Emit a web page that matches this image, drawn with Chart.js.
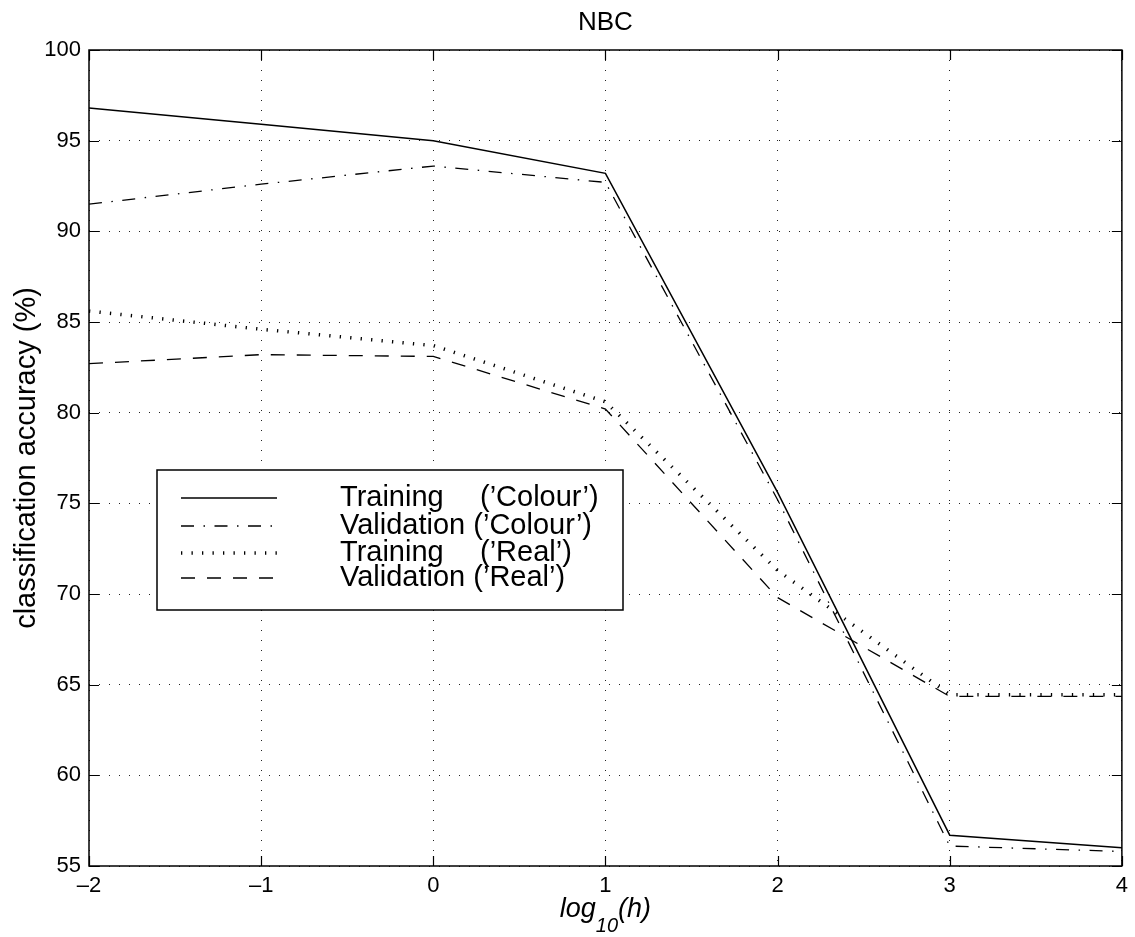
<!DOCTYPE html>
<html>
<head>
<meta charset="utf-8">
<script src="https://cdn.jsdelivr.net/npm/chart.js@4.4.1/dist/chart.umd.min.js"></script>
<style>
  html, body { margin: 0; padding: 0; background: #fff; }
  #wrap { width: 1135px; height: 937px; }
</style>
</head>
<body>
<div id="wrap"><canvas id="chartNbc" width="1135" height="937"></canvas></div>
<script>
// valores
const logH = [-2, -1, 0, 1, 2, 3, 4];
const trainColour = [96.8, 95.9, 95.0, 93.2, 75.6, 56.7, 56.0];
const validColour = [91.5, 92.6, 93.6, 92.7, 75.2, 56.1, 55.8];
const trainReal = [85.6, 84.6, 83.7, 80.6, 71.3, 64.45, 64.45];
const validReal = [82.7, 83.2, 83.1, 80.2, 69.8, 64.35, 64.35];

const xTicks = [-2, -1, 0, 1, 2, 3, 4];
const yTicks = [55, 60, 65, 70, 75, 80, 85, 90, 95, 100];

const legendNames = ["Training", "Validation", "Training", "Validation"];
const legendSets = ["(\u2019Colour\u2019)", "(\u2019Colour\u2019)", "(\u2019Real\u2019)", "(\u2019Real\u2019)"];

const FONT = "'Liberation Sans', Arial, Helvetica, sans-serif";

function toPoints(values) {
  return logH.map((x, i) => ({ x: x, y: values[i] }));
}

const styles = [
  { borderWidth: 1.5, borderDash: [] },
  { borderWidth: 1.3, borderDash: [13, 9.5, 1.5, 9.5] },
  { borderWidth: 3.5, borderDash: [1.3, 9.2] },
  { borderWidth: 1.3, borderDash: [14, 12] }
];

const seriesValues = [trainColour, validColour, trainReal, validReal];

// caixa, ticks para dentro, título, rótulos e legenda
const matlabDecor = {
  id: "matlabDecor",
  afterDraw(chart) {
    const ctx = chart.ctx;
    const a = chart.chartArea;
    const xs = chart.scales.x;
    const ys = chart.scales.y;

    ctx.save();
    ctx.strokeStyle = "#000";
    ctx.lineWidth = 1.5;
    ctx.setLineDash([]);
    ctx.strokeRect(a.left, a.top, a.right - a.left, a.bottom - a.top);

    ctx.lineWidth = 1.2;
    ctx.beginPath();
    xTicks.forEach(v => {
      const px = Math.round(xs.getPixelForValue(v)) + 0.5;
      ctx.moveTo(px, a.bottom); ctx.lineTo(px, a.bottom - 10);
      ctx.moveTo(px, a.top); ctx.lineTo(px, a.top + 10);
    });
    yTicks.forEach(v => {
      const py = Math.round(ys.getPixelForValue(v)) + 0.5;
      ctx.moveTo(a.left, py); ctx.lineTo(a.left + 10, py);
      ctx.moveTo(a.right, py); ctx.lineTo(a.right - 10, py);
    });
    ctx.stroke();

    // título
    ctx.fillStyle = "#000";
    ctx.textAlign = "center";
    ctx.textBaseline = "alphabetic";
    ctx.font = "26px " + FONT;
    const cx = (a.left + a.right) / 2;
    ctx.fillText("NBC", cx, 30);

    // eixo x: log10(h)
    ctx.font = "italic 27px " + FONT;
    const wLog = ctx.measureText("log").width;
    const wH = ctx.measureText("(h)").width;
    ctx.font = "italic 20px " + FONT;
    const wSub = ctx.measureText("10").width;
    let x0 = cx - (wLog + wSub + wH) / 2;
    ctx.textAlign = "left";
    ctx.font = "italic 27px " + FONT;
    ctx.fillText("log", x0, 917);
    ctx.font = "italic 20px " + FONT;
    ctx.fillText("10", x0 + wLog, 932);
    ctx.font = "italic 27px " + FONT;
    ctx.fillText("(h)", x0 + wLog + wSub, 917);

    // eixo y
    ctx.save();
    ctx.translate(27, (a.top + a.bottom) / 2);
    ctx.rotate(-Math.PI / 2);
    ctx.textAlign = "center";
    ctx.textBaseline = "middle";
    ctx.font = "29px " + FONT;
    ctx.fillText("classification accuracy (%)", 0, 0);
    ctx.restore();

    // legenda
    const box = { left: 157, top: 470, right: 623, bottom: 610 };
    ctx.fillStyle = "#fff";
    ctx.fillRect(box.left, box.top, box.right - box.left, box.bottom - box.top);
    ctx.strokeStyle = "#000";
    ctx.lineWidth = 1.5;
    ctx.strokeRect(box.left, box.top, box.right - box.left, box.bottom - box.top);

    const rows = [498, 526, 553, 578];
    rows.forEach((ry, i) => {
      ctx.save();
      ctx.lineWidth = styles[i].borderWidth;
      ctx.setLineDash(styles[i].borderDash);
      ctx.beginPath();
      ctx.moveTo(181, ry);
      ctx.lineTo(277, ry);
      ctx.stroke();
      ctx.restore();

      ctx.fillStyle = "#000";
      ctx.font = "29px " + FONT;
      ctx.textAlign = "left";
      ctx.textBaseline = "middle";
      if (legendNames[i] === "Training") {
        ctx.fillText(legendNames[i], 340, ry);
        ctx.fillText(legendSets[i], 480, ry);
      } else {
        ctx.fillText(legendNames[i] + " " + legendSets[i], 340, ry);
      }
    });
    ctx.restore();
  }
};

const chart = new Chart(document.getElementById("chartNbc"), {
  type: "scatter",
  data: {
    datasets: seriesValues.map((vals, i) => ({
      label: legendNames[i] + " " + legendSets[i],
      data: toPoints(vals),
      showLine: true,
      borderColor: "#000",
      backgroundColor: "#000",
      borderWidth: styles[i].borderWidth,
      borderDash: styles[i].borderDash,
      pointRadius: 0,
      pointHoverRadius: 0,
      tension: 0
    }))
  },
  options: {
    responsive: false,
    animation: false,
    devicePixelRatio: 1,
    layout: { padding: { top: 50, right: 11, left: 0, bottom: 0 } },
    plugins: {
      legend: { display: false },
      title: { display: false },
      tooltip: { enabled: false }
    },
    scales: {
      x: {
        type: "linear",
        min: -2,
        max: 4,
        afterFit: s => { s.height = 71; },
        afterBuildTicks: s => { s.ticks = xTicks.map(v => ({ value: v })); },
        ticks: {
          color: "#000",
          font: { family: FONT, size: 22 },
          padding: 7,
          maxRotation: 0,
          callback: v => (v < 0 ? "\u2013" + Math.abs(v) : String(v))
        },
        grid: { color: "#222", lineWidth: 1, drawTicks: false },
        border: { display: false, dash: [1, 9] }
      },
      y: {
        type: "linear",
        min: 55,
        max: 100,
        afterFit: s => { s.width = 89; },
        afterBuildTicks: s => { s.ticks = yTicks.map(v => ({ value: v })); },
        ticks: {
          color: "#000",
          font: { family: FONT, size: 22 },
          padding: 8
        },
        grid: { color: "#222", lineWidth: 1, drawTicks: false },
        border: { display: false, dash: [1, 9] }
      }
    }
  },
  plugins: [matlabDecor]
});
</script>
</body>
</html>
